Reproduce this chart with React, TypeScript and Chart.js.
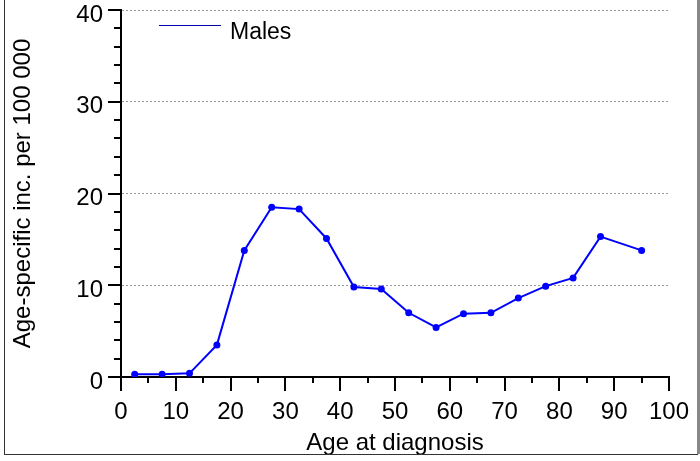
import React, { useEffect, useRef } from "react";
import { Chart, registerables } from "chart.js";

Chart.register(...registerables);

const ageMidpoints = [2.5, 7.5, 12.5, 17.5, 22.5, 27.5, 32.5, 37.5, 42.5, 47.5, 52.5, 57.5, 62.5, 67.5, 72.5, 77.5, 82.5, 87.5, 95];
const maleRates = [0.3, 0.3, 0.4, 3.5, 13.8, 18.5, 18.3, 15.1, 9.8, 9.6, 7.0, 5.4, 6.9, 7.0, 8.6, 9.9, 10.8, 15.3, 13.8];
const seriesLabel = "Males";
const xTitle = "Age at diagnosis";
const yTitle = "Age-specific inc. per 100 000";
const xRange = [0, 100];
const yRange = [0, 40];

const FONT = "'Liberation Sans', Arial, sans-serif";

const decorPlugin = {
  id: "decor",
  beforeDraw(chart: any) {
    const ctx = chart.ctx;
    ctx.save();
    ctx.fillStyle = "#ffffff";
    ctx.fillRect(0, 0, chart.width, chart.height);
    ctx.restore();
  },
  afterDraw(chart: any) {
    const ctx = chart.ctx;
    const xs = chart.scales.x;
    const ys = chart.scales.y;
    const area = chart.chartArea;
    ctx.save();
    // tick marks
    ctx.strokeStyle = "#000";
    ctx.lineWidth = 2;
    ctx.beginPath();
    for (let v = yRange[0]; v <= yRange[1]; v += 2) {
      const py = Math.round(ys.getPixelForValue(v));
      const len = v % 10 === 0 ? 13 : 7;
      ctx.moveTo(area.left - len, py);
      ctx.lineTo(area.left, py);
    }
    for (let v = xRange[0]; v <= xRange[1]; v += 5) {
      const px = Math.round(xs.getPixelForValue(v));
      const len = v % 10 === 0 ? 14 : 6;
      ctx.moveTo(px, area.bottom);
      ctx.lineTo(px, area.bottom + len);
    }
    ctx.stroke();

    // legend inside plot
    ctx.strokeStyle = "#0000b0";
    ctx.lineWidth = 1;
    ctx.beginPath();
    ctx.moveTo(159, 25.5);
    ctx.lineTo(221, 25.5);
    ctx.stroke();
    ctx.fillStyle = "#000";
    ctx.font = `23px ${FONT}`;
    ctx.textBaseline = "alphabetic";
    ctx.textAlign = "left";
    ctx.fillText(seriesLabel, 230, 39);

    // outer frame
    ctx.strokeStyle = "#333";
    ctx.lineWidth = 1;
    ctx.beginPath();
    ctx.moveTo(4.5, 0);
    ctx.lineTo(4.5, 455);
    ctx.moveTo(4, 454.5);
    ctx.lineTo(698, 454.5);
    ctx.stroke();
    ctx.strokeStyle = "#888";
    ctx.lineWidth = 3;
    ctx.beginPath();
    ctx.moveTo(698.5, 0);
    ctx.lineTo(698.5, 454);
    ctx.stroke();
    ctx.restore();
  },
};

export default function App() {
  const ref = useRef<HTMLCanvasElement | null>(null);

  useEffect(() => {
    if (!ref.current) return;
    const points = ageMidpoints.map((a, i) => ({ x: a, y: maleRates[i] }));
    const chart = new Chart(ref.current, {
      type: "line",
      data: {
        datasets: [
          {
            label: seriesLabel,
            data: points,
            borderColor: "#0000ff",
            backgroundColor: "#0000ff",
            borderWidth: 2,
            pointRadius: 3.5,
            pointBackgroundColor: "#0000ff",
            pointBorderWidth: 0,
            tension: 0,
          },
        ],
      },
      options: {
        animation: false,
        responsive: false,
        devicePixelRatio: 1,
        layout: { padding: { top: 10, right: 31, left: 0, bottom: 0 } },
        plugins: {
          legend: { display: false },
          tooltip: { enabled: false },
        },
        scales: {
          x: {
            type: "linear",
            min: xRange[0],
            max: xRange[1],
            ticks: {
              stepSize: 10,
              color: "#000",
              font: { family: FONT, size: 24 },
              padding: 21,
              maxRotation: 0,
              autoSkip: false,
            },
            grid: { drawOnChartArea: false, drawTicks: false },
            border: { display: true, color: "#000", width: 2 },
            title: {
              display: true,
              text: xTitle,
              color: "#000",
              font: { family: FONT, size: 24 },
              padding: { top: 0, bottom: 3 },
            },
            afterFit: (s: any) => {
              s.height = 84;
              s.paddingLeft = 0;
              s.paddingRight = 0;
            },
          },
          y: {
            type: "linear",
            min: yRange[0],
            max: yRange[1],
            ticks: {
              stepSize: 10,
              color: "#000",
              font: { family: FONT, size: 24 },
              padding: 18,
              labelOffset: 5,
            },
            grid: { drawOnChartArea: true, drawTicks: false, color: "#9a9a9a", lineWidth: 1 },
            border: { display: true, color: "#000", width: 2, dash: [2, 2] },
            title: {
              display: true,
              text: yTitle,
              color: "#000",
              font: { family: FONT, size: 24 },
              padding: { top: 9, bottom: 0 },
            },
            afterFit: (s: any) => {
              s.width = 121;
              s.paddingTop = 0;
              s.paddingBottom = 0;
            },
          },
        },
      },
      plugins: [decorPlugin],
    });
    return () => chart.destroy();
  }, []);

  return (
    <div style={{ position: "absolute", left: 0, top: 0, width: 700, height: 461 }}>
      <canvas ref={ref} width={700} height={461} style={{ display: "block" }} />
    </div>
  );
}
